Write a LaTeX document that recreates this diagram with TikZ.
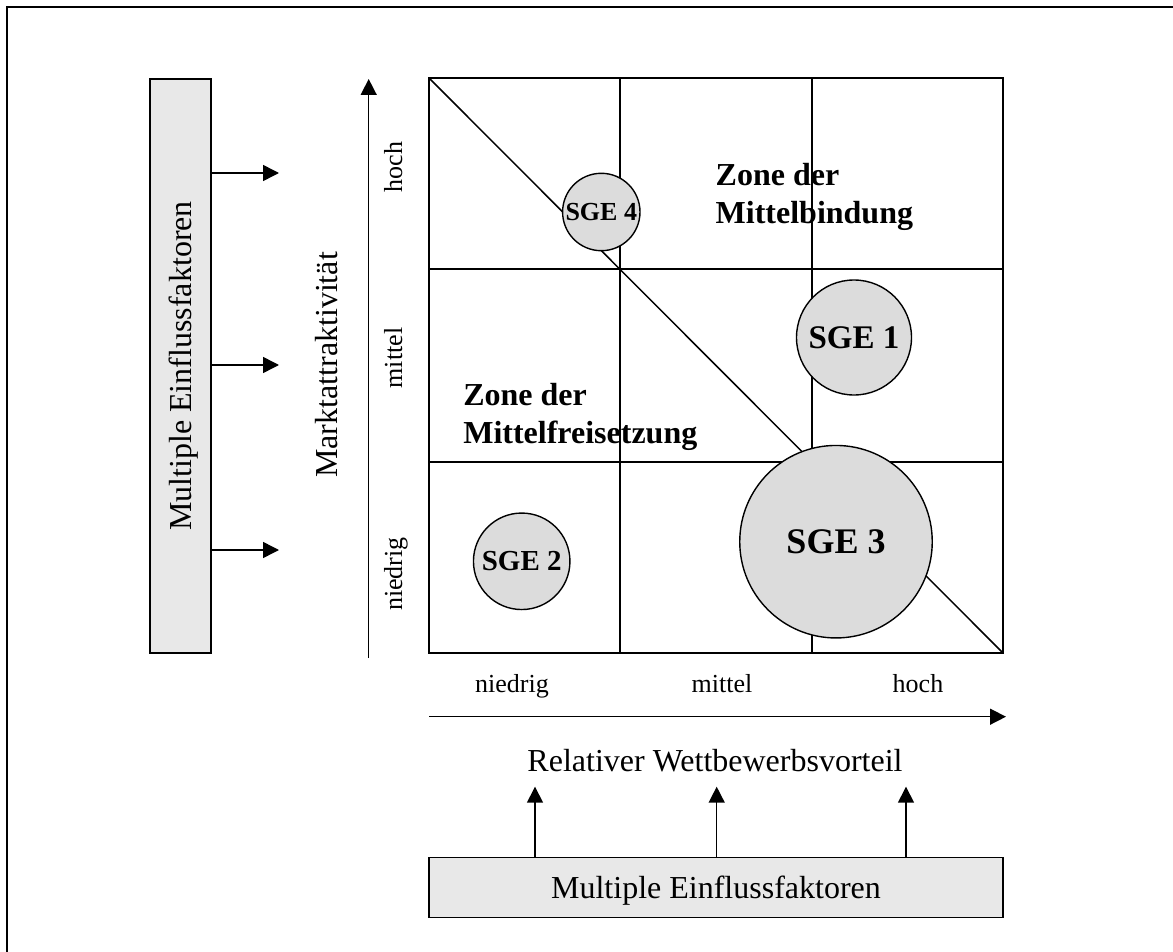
\documentclass[tikz,border=0pt]{standalone}
\usepackage{fontspec}
\setmainfont{Liberation Serif}
\usetikzlibrary{arrows.meta}
\definecolor{boxgrey}{HTML}{E8E8E8}
\definecolor{unitgrey}{HTML}{DCDCDC}

\begin{document}
\begin{tikzpicture}[x=1pt,y=-1pt,
  every node/.style={inner sep=0pt, outer sep=0pt},
  gridline/.style={line width=2pt},
  conn/.style={line width=1.5pt, -{Triangle[length=16pt,width=16pt]}},
  factorbox/.style={draw, line width=1.6pt, fill=boxgrey, text depth=0pt,
    font=\fontsize{32}{38}\selectfont},
  unit/.style={circle, draw, line width=1.4pt, fill=unitgrey},
  zone/.style={align=left, anchor=north west,
    font=\bfseries\fontsize{32}{37.5}\selectfont},
  tick/.style={anchor=base, font=\fontsize{26}{31}\selectfont},
  axislabel/.style={anchor=base, font=\fontsize{32}{38}\selectfont}]

\useasboundingbox (0,0) rectangle (1173,952);

% outer frame
\draw[line width=2.2pt] (7,960) -- (7,7) -- (1180,7);

% portfolio grid
\coordinate (gtl) at (429,78);
\coordinate (gbr) at (1003,653);
\draw[gridline] (gtl) rectangle (gbr);
\draw[gridline] (620,78) -- (620,653)
                (811.5,78) -- (811.5,653)
                (429,269.5) -- (1003,269.5)
                (429,461.5) -- (1003,461.5);
\draw[line width=1.5pt] (gtl) -- (gbr);

% zone captions
\node[zone] (zbind) at (715.7,163.3) {Zone der\\Mittelbindung};
\node[zone] (zfrei) at (463.3,383.3) {Zone der\\Mittelfreisetzung};

% business units
\node[unit, minimum size=77.4pt, font=\bfseries\fontsize{26}{31}\selectfont]
  (sge4) at (601.3,212) {SGE 4};
\node[unit, minimum size=115pt, font=\bfseries\fontsize{33}{40}\selectfont]
  (sge1) at (854,337.5) {SGE 1};
\node[unit, minimum size=96.5pt, font=\bfseries\fontsize{29}{35}\selectfont]
  (sge2) at (521.7,561.3) {SGE 2};
\node[unit, minimum size=192.5pt, font=\bfseries\fontsize{36}{43}\selectfont]
  (sge3) at (836,541.7) {SGE 3};

% vertical axis
\coordinate (yb) at (368.7,658);
\coordinate (yt) at (368.7,79);
\draw[conn] (yb) -- (yt);
\node[axislabel, rotate=90] (ylab) at (337,365) {Marktattraktivität};
\node[tick, rotate=90] (yh) at (402,167) {hoch};
\node[tick, rotate=90] (ym) at (402,358) {mittel};
\node[tick, rotate=90] (yn) at (402,574) {niedrig};

% horizontal axis
\coordinate (xb) at (429,716.7);
\coordinate (xt) at (1006,716.7);
\draw[conn] (xb) -- (xt);
\node[tick] (xn) at (512,692.5) {niedrig};
\node[tick] (xm) at (722,692.5) {mittel};
\node[tick] (xh) at (918,692.5) {hoch};
\node[axislabel] (xlab) at (715,771.7) {Relativer Wettbewerbsvorteil};

% influencing factors, left
\node[factorbox, rotate=90, minimum width=574pt, minimum height=61pt]
  (lbox) at (180.5,366) {Multiple Einflussfaktoren};
\coordinate (a1) at (279,173);
\coordinate (a2) at (279,365);
\coordinate (a3) at (279,550);
\foreach \t in {a1,a2,a3}
  \draw[conn] (lbox.south |- \t) -- (\t);

% influencing factors, bottom
\node[factorbox, minimum width=574pt, minimum height=60pt]
  (lowerbox) at (716,887.3) {Multiple Einflussfaktoren};
\coordinate (u1) at (535,786.7);
\coordinate (u2) at (716.7,786.7);
\coordinate (u3) at (906,786.7);
\foreach \t in {u1,u2,u3}
  \draw[conn] (lowerbox.north -| \t) -- (\t);
\end{tikzpicture}
\end{document}
